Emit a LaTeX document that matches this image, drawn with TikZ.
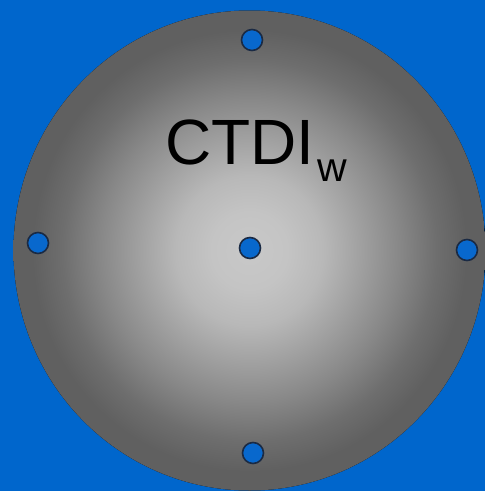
\documentclass[tikz,border=0pt]{standalone}
\usepackage{fontspec}
\setmainfont{Liberation Sans}
\usetikzlibrary{positioning}
\definecolor{bgblue}{HTML}{0066CC}
\definecolor{holeblue}{HTML}{0868CD}
\definecolor{holeline}{HTML}{1A2A44}
\definecolor{phA}{HTML}{C8C8C8}
\definecolor{phB}{HTML}{C4C4C4}
\definecolor{phC}{HTML}{B8B8B8}
\definecolor{phD}{HTML}{A0A0A0}
\definecolor{phE}{HTML}{888888}
\definecolor{phF}{HTML}{6E6E6E}
\definecolor{phG}{HTML}{606060}
\pgfdeclareradialshading{phantomshade}{\pgfpoint{0bp}{0bp}}{color(0bp)=(phA); color(4bp)=(phB); color(7.8bp)=(phC); color(11.8bp)=(phD); color(15.8bp)=(phE); color(19.8bp)=(phF); color(23bp)=(phG); color(25bp)=(phG); color(50bp)=(phG)}
\tikzset{
  hole/.style={circle,draw=holeline,line width=1.6pt,fill=holeblue,inner sep=0pt,minimum size=21pt},
}

\begin{document}
\begin{tikzpicture}[x=1pt,y=-1pt]
\useasboundingbox (0,0) rectangle (485,491);
\fill[bgblue] (0,0) rectangle (485,491);
% phantom
\fill[shading=phantomshade] (249.5,250.5) ellipse (236pt and 240pt);
\node[anchor=base west,inner sep=0pt,font=\fontsize{64}{64}\selectfont] (lbl) at (165,164) {CTDI\kern3pt\raisebox{-17pt}{\fontsize{41}{41}\selectfont w}};
% chambers
\foreach \nm/\xx/\yy in {top/252/40,left/38/243,ctr/250/248,right/467/250,bot/253/453} {\node[hole] (h\nm) at (\xx,\yy) {};}
\end{tikzpicture}
\end{document}
